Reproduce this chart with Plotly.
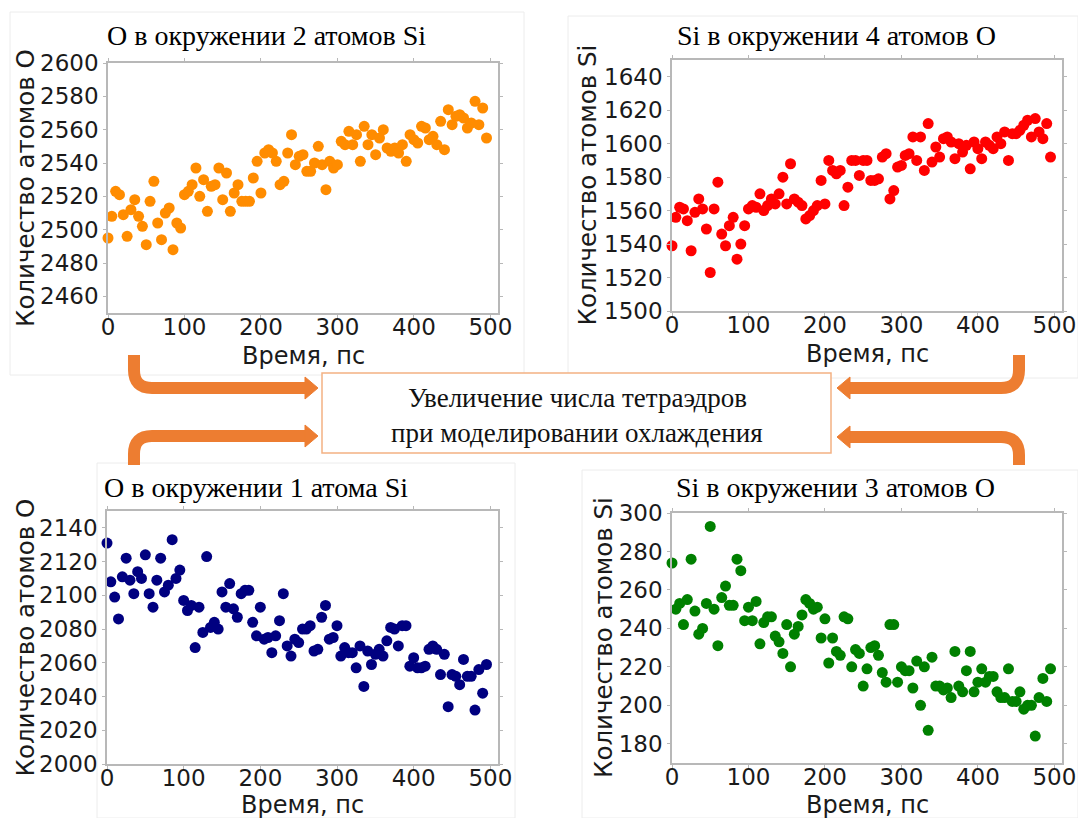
import plotly.graph_objects as go

# ---------------- data ----------------
time_ps = [0, 5, 10, 15, 20, 25, 30, 35, 40, 45, 50, 55, 60, 65, 70, 75, 80, 85, 90, 95,
           100, 105, 110, 115, 120, 125, 130, 135, 140, 145, 150, 155, 160, 165, 170, 175, 180, 185, 190, 195,
           200, 205, 210, 215, 220, 225, 230, 235, 240, 245, 250, 255, 260, 265, 270, 275, 280, 285, 290, 295,
           300, 305, 310, 315, 320, 325, 330, 335, 340, 345, 350, 355, 360, 365, 370, 375, 380, 385, 390, 395,
           400, 405, 410, 415, 420, 425, 430, 435, 440, 445, 450, 455, 460, 465, 470, 475, 480, 485, 490, 495]

o_2si = [2495, 2508, 2523, 2521, 2509, 2496, 2512, 2518, 2508, 2502,
         2491, 2517, 2529, 2504, 2494, 2510, 2513, 2488, 2504, 2501,
         2521, 2523, 2527, 2537, 2520, 2530, 2511, 2526, 2527, 2537,
         2518, 2534, 2511, 2522, 2527, 2517, 2517, 2517, 2531, 2541,
         2522, 2546, 2548, 2546, 2541, 2527, 2529, 2546, 2557, 2539,
         2544, 2545, 2535, 2535, 2540, 2550, 2539, 2524, 2541, 2537,
         2539, 2553, 2551, 2559, 2551, 2557, 2541, 2562, 2551, 2557,
         2545, 2555, 2560, 2549, 2547, 2549, 2546, 2551, 2541, 2557,
         2554, 2552, 2562, 2561, 2554, 2556, 2551, 2565, 2548, 2572,
         2563, 2568, 2569, 2567, 2561, 2564, 2577, 2563, 2573, 2555]

si_4o = [1539, 1556, 1562, 1561, 1554, 1536, 1559, 1567, 1561, 1549,
         1523, 1561, 1577, 1546, 1539, 1551, 1556, 1531, 1540, 1551,
         1561, 1563, 1562, 1570, 1560, 1563, 1567, 1564, 1570, 1580,
         1564, 1588, 1567, 1565, 1563, 1555, 1557, 1560, 1563, 1578,
         1564, 1590, 1584, 1582, 1584, 1563, 1574, 1590, 1590, 1581,
         1590, 1590, 1578, 1578, 1579, 1592, 1594, 1567, 1572, 1586,
         1587, 1593, 1594, 1604, 1590, 1604, 1584, 1612, 1589, 1598,
         1592, 1603, 1604, 1601, 1591, 1600, 1595, 1599, 1585, 1601,
         1597, 1591, 1601, 1599, 1597, 1604, 1600, 1607, 1590, 1606,
         1606, 1608, 1611, 1614, 1604, 1615, 1607, 1603, 1612, 1592]

o_1si = [2131, 2108, 2099, 2086, 2111, 2122, 2109, 2101, 2114, 2110,
         2124, 2101, 2093, 2109, 2122, 2102, 2106, 2133, 2110, 2115,
         2097, 2091, 2094, 2069, 2093, 2078, 2123, 2081, 2084, 2080,
         2102, 2093, 2107, 2092, 2087, 2101, 2103, 2103, 2084, 2076,
         2093, 2074, 2075, 2066, 2076, 2085, 2101, 2070, 2064, 2074,
         2072, 2080, 2080, 2082, 2067, 2068, 2087, 2094, 2074, 2075,
         2082, 2064, 2069, 2066, 2066, 2057, 2070, 2046, 2067, 2059,
         2065, 2068, 2064, 2073, 2081, 2080, 2070, 2082, 2082, 2058,
         2063, 2057, 2057, 2058, 2068, 2070, 2068, 2053, 2065, 2034,
         2053, 2052, 2047, 2062, 2052, 2052, 2032, 2056, 2042, 2059]

si_3o = [274, 250, 253, 242, 255, 276, 249, 237, 240, 253,
         293, 250, 231, 256, 262, 252, 252, 276, 270, 244,
         251, 244, 254, 232, 243, 246, 246, 236, 233, 227,
         242, 220, 237, 241, 247, 255, 253, 250, 251, 235,
         245, 222, 235, 228, 226, 246, 245, 220, 229, 227,
         210, 219, 230, 231, 226, 217, 212, 242, 242, 212,
         220, 218, 218, 209, 223, 200, 220, 187, 225, 210,
         210, 208, 209, 204, 228, 210, 207, 218, 228, 207,
         212, 219, 212, 215, 215, 207, 204, 204, 219, 202,
         202, 207, 198, 200, 200, 184, 204, 214, 202, 219]

titles = ["O в окружении 2 атомов Si", "Si в окружении 4 атомов O",
          "O в окружении 1 атома Si", "Si в окружении 3 атомов O"]
y_titles = ["Количество атомов O", "Количество атомов Si",
            "Количество атомов O", "Количество атомов Si"]
x_title = "Время, пс"
center_lines = ["Увеличение числа тетраэдров", "при моделировании охлаждения"]

x_ticks = [0, 100, 200, 300, 400, 500]
y_ticks_list = [
    [2460, 2480, 2500, 2520, 2540, 2560, 2580, 2600],
    [1500, 1520, 1540, 1560, 1580, 1600, 1620, 1640],
    [2000, 2020, 2040, 2060, 2080, 2100, 2120, 2140],
    [180, 200, 220, 240, 260, 280, 300],
]
y_ranges = [[2450, 2600], [1500, 1650], [2000, 2150], [170, 300]]
colors = ["#FF8C00", "#FF0000", "#000080", "#008000"]
series = [o_2si, si_4o, o_1si, si_3o]

# ---------------- layout geometry (target pixels) ----------------
W, H = 1078, 818
def px(x):
    return x / W
def py(y):
    return 1 - y / H

# left, right, top, bottom in pixels
boxes = [(108, 498, 63, 313), (672, 1062, 60, 311),
         (107, 498, 511, 764), (672, 1062, 513, 763)]
title_pos = [(266, 36), (836, 36), (256, 487), (835, 487)]
ytitle_x = [25, 587, 25, 603]
xtitle_y = [356, 354, 805, 805]

SANS = "DejaVu Sans"
SERIF = "Liberation Serif"
SPINE = "#b8b8b8"

fig = go.Figure()
annotations = []
shapes = []

# faint panel borders (pasted panels)
panel_rects = [(10, 12, 524, 375), (568, 16, 1078, 378), (97, 463, 515, 818), (582, 470, 1078, 818)]
for (x0, y0, x1, y1) in panel_rects:
    shapes.append(dict(type="rect", xref="paper", yref="paper",
                       x0=px(x0), x1=px(x1), y0=py(y1), y1=py(y0),
                       line=dict(color="#ececec", width=1), fillcolor="rgba(0,0,0,0)", layer="below"))

for i in range(4):
    k = "" if i == 0 else str(i + 1)
    l, r, t, b = boxes[i]
    fig.add_trace(go.Scatter(x=time_ps, y=series[i], mode="markers",
                             marker=dict(color=colors[i], size=11, line=dict(width=0)),
                             xaxis="x" + k, yaxis="y" + k, showlegend=False, cliponaxis=False))
    fig.layout["xaxis" + k] = dict(domain=[px(l), px(r)], anchor="y" + k, range=[0, 510],
                                  tickvals=x_ticks, showgrid=False, zeroline=False, automargin=False,
                                  showline=True, linecolor=SPINE, linewidth=1.5, mirror="ticks",
                                  ticks="outside", ticklen=3, tickcolor=SPINE,
                                  ticklabelstandoff=-10, ticklabeloverflow="allow",
                                  tickfont=dict(family=SANS, size=23, color="#1a1a1a"))
    fig.layout["yaxis" + k] = dict(domain=[py(b), py(t)], anchor="x" + k, range=y_ranges[i],
                                  tickvals=y_ticks_list[i], showgrid=False, zeroline=False, automargin=False,
                                  showline=True, linecolor=SPINE, linewidth=1.5, mirror="ticks",
                                  ticks="outside", ticklen=3, tickcolor=SPINE, ticklabeloverflow="allow",
                                  tickfont=dict(family=SANS, size=23, color="#1a1a1a"))
    tx, ty = title_pos[i]
    annotations.append(dict(text=titles[i], x=px(tx), y=py(ty), xref="paper", yref="paper",
                            showarrow=False, xanchor="center", yanchor="middle",
                            font=dict(family=SERIF, size=28, color="black")))
    annotations.append(dict(text=y_titles[i], x=px(ytitle_x[i]), y=py((t + b) / 2),
                            xref="paper", yref="paper", showarrow=False, textangle=-90,
                            xanchor="center", yanchor="middle",
                            font=dict(family=SANS, size=24.5, color="#1a1a1a")))
    annotations.append(dict(text=x_title, x=px((l + r) / 2), y=py(xtitle_y[i]),
                            xref="paper", yref="paper", showarrow=False,
                            xanchor="center", yanchor="middle",
                            font=dict(family=SANS, size=24, color="#1a1a1a")))

# center box
shapes.append(dict(type="rect", xref="paper", yref="paper",
                   x0=px(322), x1=px(831), y0=py(453), y1=py(373),
                   line=dict(color="#F4B183", width=1.5), fillcolor="white"))
annotations.append(dict(text=center_lines[0], x=px(577), y=py(398), xref="paper", yref="paper",
                        showarrow=False, xanchor="center", yanchor="middle",
                        font=dict(family=SERIF, size=27, color="#111111")))
annotations.append(dict(text=center_lines[1], x=px(577), y=py(433), xref="paper", yref="paper",
                        showarrow=False, xanchor="center", yanchor="middle",
                        font=dict(family=SERIF, size=27, color="#111111")))

# orange bent arrows
ORANGE = "#ED7D31"
def P(x, y):
    return f"{px(x):.5f},{py(y):.5f}"

R = 18
arrow_specs = [
    # (vertical x, vertical end y, horizontal y, head base x, head tip x)
    (134, 355, 388, 305, 318),
    (134, 465, 436, 305, 318),
    (1019, 355, 388, 850, 837),
    (1019, 465, 437, 850, 837),
]
for vx, vy, hy, hb, ht in arrow_specs:
    sy = 1 if hy > vy else -1
    sx = 1 if ht > vx else -1
    path = (f"M{P(vx, vy)} L{P(vx, hy - sy * R)} Q{P(vx, hy)} {P(vx + sx * R, hy)} "
            f"L{P(hb + sx * 1, hy)}")
    shapes.append(dict(type="path", xref="paper", yref="paper", path=path,
                       line=dict(color=ORANGE, width=12), fillcolor="rgba(0,0,0,0)"))
    head = f"M{P(hb, hy - 11)} L{P(ht, hy)} L{P(hb, hy + 11)} Z"
    shapes.append(dict(type="path", xref="paper", yref="paper", path=head,
                       line=dict(color=ORANGE, width=1), fillcolor=ORANGE))

fig.update_layout(width=W, height=H, margin=dict(l=0, r=0, t=0, b=0, autoexpand=False),
                  paper_bgcolor="white", plot_bgcolor="white",
                  annotations=annotations, shapes=shapes, showlegend=False)

fig.write_html("out.html", config={"displayModeBar": False},
               post_script="document.body.style.margin='0';document.body.style.overflow='hidden';")
